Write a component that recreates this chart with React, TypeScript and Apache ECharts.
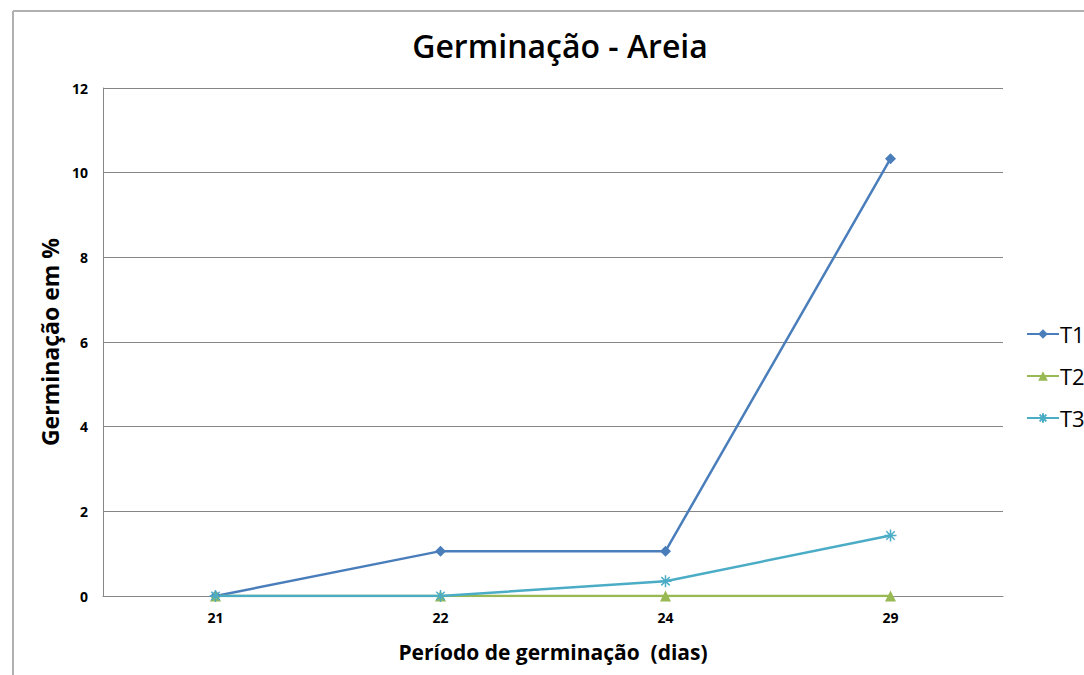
import React, { useEffect, useRef } from "react";
import * as echarts from "echarts";

const categories = ["21", "22", "24", "29"];
const t1 = [0, 1.06, 1.06, 10.33];
const t2 = [0, 0, 0, 0];
const t3 = [0, 0, 0.35, 1.43];
const yTicks = [0, 2, 4, 6, 8, 10, 12];

const FONT = "'Open Sans', 'Noto Sans', sans-serif";
const asterisk =
  "path://M0,5 L10,5 M5,0 L5,10 M1.5,1.5 L8.5,8.5 M8.5,1.5 L1.5,8.5";

export default function App() {
  const ref = useRef<HTMLDivElement>(null);
  useEffect(() => {
    if (!ref.current) return;
    const chart = echarts.init(ref.current, undefined, { renderer: "svg" });
    chart.setOption({
      animation: false,
      backgroundColor: "#ffffff",
      title: {
        text: "Germinação - Areia",
        left: 555,
        top: 24,
        textAlign: "center",
        textStyle: { fontFamily: FONT, fontWeight: 600, fontSize: 32, color: "#000" },
      },
      graphic: [
        { type: "line", shape: { x1: 13, y1: 11, x2: 13, y2: 675 }, style: { stroke: "#b0b0b0", lineWidth: 2 } },
        { type: "line", shape: { x1: 13, y1: 11, x2: 1084, y2: 11 }, style: { stroke: "#b0b0b0", lineWidth: 2 } },
      ],
      legend: {
        orient: "vertical",
        left: 1021,
        top: 318,
        itemGap: 20,
        itemWidth: 32,
        itemHeight: 12,
        textStyle: { fontFamily: FONT, fontSize: 22, color: "#000", padding: [0, 0, 0, -4] },
        data: ["T1", "T2", "T3"],
      },
      grid: { left: 103, top: 88, right: 81, bottom: 79 },
      xAxis: {
        type: "category",
        data: categories,
        boundaryGap: true,
        name: "Período de germinação  (dias)",
        nameLocation: "middle",
        nameGap: 45,
        nameTextStyle: { fontFamily: FONT, fontWeight: "bold", fontSize: 21, color: "#000" },
        axisLine: { lineStyle: { color: "#868686", width: 1 } },
        axisTick: { show: false },
        axisLabel: { fontFamily: FONT, fontWeight: "bold", fontSize: 14, color: "#000", margin: 14 },
      },
      yAxis: {
        type: "value",
        min: yTicks[0],
        max: yTicks[yTicks.length - 1],
        interval: 2,
        name: "Germinação em %",
        nameLocation: "middle",
        nameGap: 40,
        nameTextStyle: { fontFamily: FONT, fontWeight: "bold", fontSize: 23, color: "#000" },
        axisLine: { show: true, lineStyle: { color: "#868686", width: 1 } },
        axisTick: { show: false },
        axisLabel: { fontFamily: FONT, fontWeight: "bold", fontSize: 14, color: "#000", margin: 15 },
        splitLine: { lineStyle: { color: "#868686", width: 1 } },
      },
      series: [
        {
          name: "T1",
          type: "line",
          data: t1,
          symbol: "diamond",
          symbolSize: 11,
          lineStyle: { width: 2.5, color: "#4A7EBB" },
          itemStyle: { color: "#4A7EBB" },
        },
        {
          name: "T2",
          type: "line",
          data: t2,
          symbol: "triangle",
          symbolSize: 11,
          lineStyle: { width: 2.5, color: "#98B954" },
          itemStyle: { color: "#98B954" },
        },
        {
          name: "T3",
          type: "line",
          data: t3,
          symbol: asterisk,
          symbolSize: 12,
          lineStyle: { width: 2.5, color: "#4BACC6" },
          itemStyle: { color: "#4BACC6", borderColor: "#4BACC6", borderWidth: 1.5 },
        },
      ],
    });
    return () => chart.dispose();
  }, []);
  return (
    <div
      ref={ref}
      style={{ position: "fixed", left: 0, top: 0, width: 1084, height: 675 }}
    />
  );
}
